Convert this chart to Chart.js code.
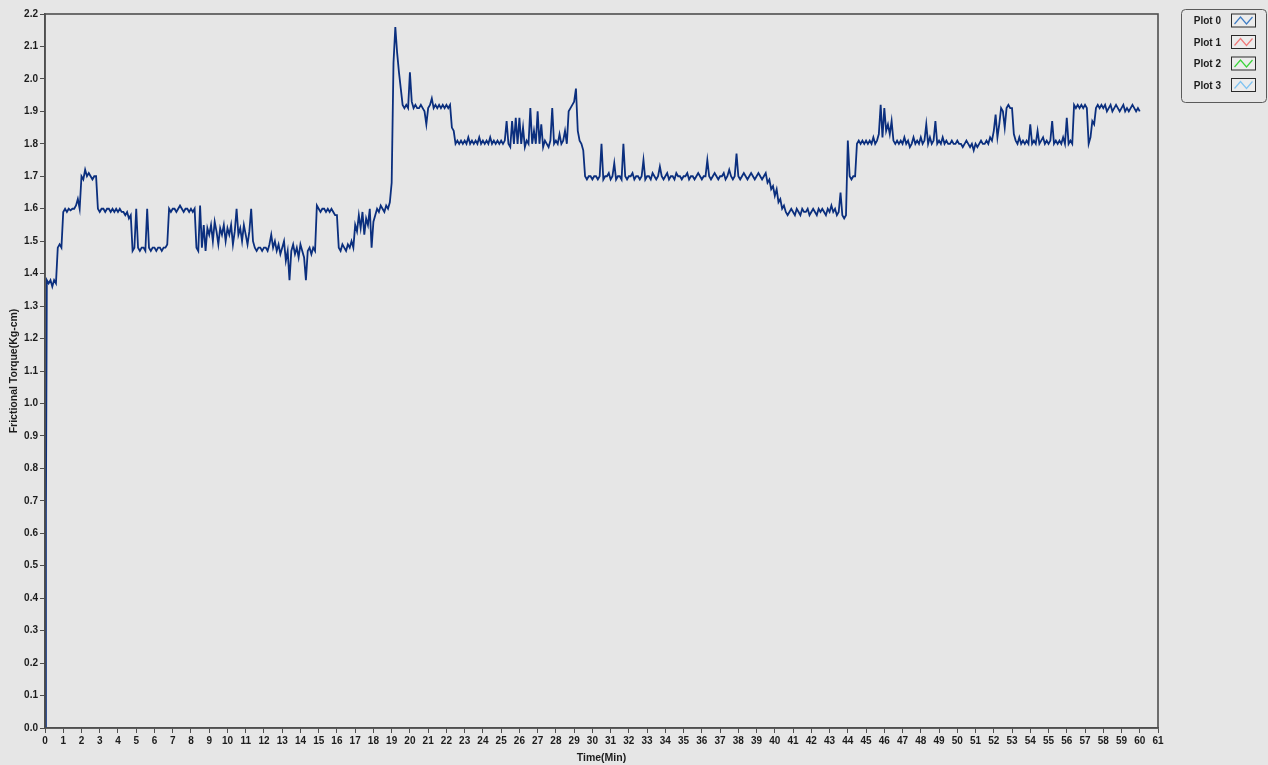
<!DOCTYPE html>
<html>
<head>
<meta charset="utf-8">
<script src="https://cdn.jsdelivr.net/npm/chart.js@4.4.1/dist/chart.umd.min.js"></script>
<style>
  html, body { margin: 0; padding: 0; background: #e6e6e6; overflow: hidden; }
  #wrap { width: 1268px; height: 765px; }
  canvas { display: block; }
</style>
</head>
<body>
<div id="wrap"><canvas id="torqueChart" width="1268" height="765"></canvas></div>
<script>
// Sample times (min)
const minutes = [
  0, 0.05, 0.1, 0.2, 0.3, 0.4, 0.5, 0.6, 0.7, 0.8, 0.9,
  1, 1.1, 1.2, 1.3, 1.4, 1.5, 1.6, 1.7, 1.8, 1.9,
  2, 2.1, 2.2, 2.3, 2.4, 2.5, 2.6, 2.7, 2.8, 2.9,
  3, 3.1, 3.2, 3.3, 3.4, 3.5, 3.6, 3.7, 3.8, 3.9,
  4, 4.1, 4.2, 4.3, 4.4, 4.5, 4.6, 4.7, 4.8, 4.9,
  5, 5.1, 5.2, 5.3, 5.4, 5.5, 5.6, 5.7, 5.8, 5.9,
  6, 6.1, 6.2, 6.3, 6.4, 6.5, 6.6, 6.7, 6.8, 6.9,
  7, 7.1, 7.2, 7.3, 7.4, 7.5, 7.6, 7.7, 7.8, 7.9,
  8, 8.1, 8.2, 8.3, 8.4, 8.5, 8.6, 8.7, 8.8, 8.9,
  9, 9.1, 9.2, 9.3, 9.4, 9.5, 9.6, 9.7, 9.8, 9.9,
  10, 10.1, 10.2, 10.3, 10.4, 10.5, 10.6, 10.7, 10.8, 10.9,
  11, 11.1, 11.2, 11.3, 11.4, 11.5, 11.6, 11.7, 11.8, 11.9,
  12, 12.1, 12.2, 12.3, 12.4, 12.5, 12.6, 12.7, 12.8, 12.9,
  13, 13.1, 13.2, 13.3, 13.4, 13.5, 13.6, 13.7, 13.8, 13.9,
  14, 14.1, 14.2, 14.3, 14.4, 14.5, 14.6, 14.7, 14.8, 14.9,
  15, 15.1, 15.2, 15.3, 15.4, 15.5, 15.6, 15.7, 15.8, 15.9,
  16, 16.1, 16.2, 16.3, 16.4, 16.5, 16.6, 16.7, 16.8, 16.9,
  17, 17.1, 17.2, 17.3, 17.4, 17.5, 17.6, 17.7, 17.8, 17.9,
  18, 18.1, 18.2, 18.3, 18.4, 18.5, 18.6, 18.7, 18.8, 18.9,
  19, 19.1, 19.2, 19.3, 19.4, 19.5, 19.6, 19.7, 19.8, 19.9,
  20, 20.1, 20.2, 20.3, 20.4, 20.5, 20.6, 20.7, 20.8, 20.9,
  21, 21.1, 21.2, 21.3, 21.4, 21.5, 21.6, 21.7, 21.8, 21.9,
  22, 22.1, 22.2, 22.3, 22.4, 22.5, 22.6, 22.7, 22.8, 22.9,
  23, 23.1, 23.2, 23.3, 23.4, 23.5, 23.6, 23.7, 23.8, 23.9,
  24, 24.1, 24.2, 24.3, 24.4, 24.5, 24.6, 24.7, 24.8, 24.9,
  25, 25.1, 25.2, 25.3, 25.4, 25.5, 25.6, 25.7, 25.8, 25.9,
  26, 26.1, 26.2, 26.3, 26.4, 26.5, 26.6, 26.7, 26.8, 26.9,
  27, 27.1, 27.2, 27.3, 27.4, 27.5, 27.6, 27.7, 27.8, 27.9,
  28, 28.1, 28.2, 28.3, 28.4, 28.5, 28.6, 28.7, 28.8, 28.9,
  29, 29.1, 29.2, 29.3, 29.4, 29.5, 29.6, 29.7, 29.8, 29.9,
  30, 30.1, 30.2, 30.3, 30.4, 30.5, 30.6, 30.7, 30.8, 30.9,
  31, 31.1, 31.2, 31.3, 31.4, 31.5, 31.6, 31.7, 31.8, 31.9,
  32, 32.1, 32.2, 32.3, 32.4, 32.5, 32.6, 32.7, 32.8, 32.9,
  33, 33.1, 33.2, 33.3, 33.4, 33.5, 33.6, 33.7, 33.8, 33.9,
  34, 34.1, 34.2, 34.3, 34.4, 34.5, 34.6, 34.7, 34.8, 34.9,
  35, 35.1, 35.2, 35.3, 35.4, 35.5, 35.6, 35.7, 35.8, 35.9,
  36, 36.1, 36.2, 36.3, 36.4, 36.5, 36.6, 36.7, 36.8, 36.9,
  37, 37.1, 37.2, 37.3, 37.4, 37.5, 37.6, 37.7, 37.8, 37.9,
  38, 38.1, 38.2, 38.3, 38.4, 38.5, 38.6, 38.7, 38.8, 38.9,
  39, 39.1, 39.2, 39.3, 39.4, 39.5, 39.6, 39.7, 39.8, 39.9,
  40, 40.1, 40.2, 40.3, 40.4, 40.5, 40.6, 40.7, 40.8, 40.9,
  41, 41.1, 41.2, 41.3, 41.4, 41.5, 41.6, 41.7, 41.8, 41.9,
  42, 42.1, 42.2, 42.3, 42.4, 42.5, 42.6, 42.7, 42.8, 42.9,
  43, 43.1, 43.2, 43.3, 43.4, 43.5, 43.6, 43.7, 43.8, 43.9,
  44, 44.1, 44.2, 44.3, 44.4, 44.5, 44.6, 44.7, 44.8, 44.9,
  45, 45.1, 45.2, 45.3, 45.4, 45.5, 45.6, 45.7, 45.8, 45.9,
  46, 46.1, 46.2, 46.3, 46.4, 46.5, 46.6, 46.7, 46.8, 46.9,
  47, 47.1, 47.2, 47.3, 47.4, 47.5, 47.6, 47.7, 47.8, 47.9,
  48, 48.1, 48.2, 48.3, 48.4, 48.5, 48.6, 48.7, 48.8, 48.9,
  49, 49.1, 49.2, 49.3, 49.4, 49.5, 49.6, 49.7, 49.8, 49.9,
  50, 50.1, 50.2, 50.3, 50.4, 50.5, 50.6, 50.7, 50.8, 50.9,
  51, 51.1, 51.2, 51.3, 51.4, 51.5, 51.6, 51.7, 51.8, 51.9,
  52, 52.1, 52.2, 52.3, 52.4, 52.5, 52.6, 52.7, 52.8, 52.9,
  53, 53.1, 53.2, 53.3, 53.4, 53.5, 53.6, 53.7, 53.8, 53.9,
  54, 54.1, 54.2, 54.3, 54.4, 54.5, 54.6, 54.7, 54.8, 54.9,
  55, 55.1, 55.2, 55.3, 55.4, 55.5, 55.6, 55.7, 55.8, 55.9,
  56, 56.1, 56.2, 56.3, 56.4, 56.5, 56.6, 56.7, 56.8, 56.9,
  57, 57.1, 57.2, 57.3, 57.4, 57.5, 57.6, 57.7, 57.8, 57.9,
  58, 58.1, 58.2, 58.3, 58.4, 58.5, 58.6, 58.7, 58.8, 58.9,
  59, 59.1, 59.2, 59.3, 59.4, 59.5, 59.6, 59.7, 59.8, 59.9,
  60
];

// Frictional torque (Kg-cm), Plot 0
const torque = [
  0.00, 0.66, 1.38, 1.37, 1.38, 1.36, 1.38, 1.37, 1.48, 1.49, 1.48,
  1.59, 1.60, 1.59, 1.60, 1.595, 1.60, 1.60, 1.61, 1.63, 1.60,
  1.70, 1.69, 1.72, 1.70, 1.71, 1.70, 1.69, 1.70, 1.70, 1.60,
  1.59, 1.60, 1.60, 1.59, 1.60, 1.60, 1.59, 1.60, 1.59, 1.60,
  1.59, 1.60, 1.59, 1.59, 1.58, 1.59, 1.57, 1.58, 1.47, 1.48,
  1.60, 1.48, 1.47, 1.48, 1.48, 1.47, 1.60, 1.48, 1.47, 1.48,
  1.48, 1.47, 1.48, 1.48, 1.47, 1.48, 1.48, 1.49, 1.60, 1.59,
  1.60, 1.60, 1.59, 1.60, 1.61, 1.60, 1.59, 1.60, 1.60, 1.59,
  1.60, 1.59, 1.60, 1.48, 1.47, 1.61, 1.48, 1.55, 1.47, 1.54,
  1.52, 1.55, 1.50, 1.56, 1.53, 1.49, 1.54, 1.52, 1.55, 1.50,
  1.54, 1.52, 1.55, 1.49, 1.53, 1.60, 1.52, 1.54, 1.50, 1.55,
  1.52, 1.49, 1.53, 1.60, 1.50, 1.48, 1.47, 1.48, 1.48, 1.47,
  1.48, 1.48, 1.47, 1.49, 1.52, 1.48, 1.50, 1.47, 1.49, 1.46,
  1.48, 1.50, 1.44, 1.47, 1.38, 1.47, 1.49, 1.46, 1.48, 1.45,
  1.49, 1.47, 1.45, 1.38, 1.47, 1.48, 1.46, 1.48, 1.47, 1.61,
  1.60, 1.59, 1.60, 1.60, 1.59, 1.60, 1.59, 1.60, 1.59, 1.58,
  1.58, 1.48, 1.47, 1.49, 1.48, 1.47, 1.49, 1.48, 1.50, 1.48,
  1.55, 1.53, 1.58, 1.54, 1.59, 1.52, 1.57, 1.55, 1.60, 1.48,
  1.56, 1.58, 1.60, 1.59, 1.61, 1.60, 1.59, 1.61, 1.60, 1.62,
  1.68, 2.05, 2.16, 2.08, 2.02, 1.97, 1.92, 1.91, 1.92, 1.91,
  2.02, 1.93, 1.91, 1.92, 1.91, 1.91, 1.92, 1.91, 1.90, 1.86,
  1.91, 1.92, 1.94, 1.91, 1.92, 1.91, 1.92, 1.91, 1.92, 1.91,
  1.92, 1.91, 1.92, 1.85, 1.84, 1.80, 1.81, 1.80, 1.81, 1.80,
  1.81, 1.80, 1.82, 1.80, 1.81, 1.80, 1.81, 1.80, 1.82, 1.80,
  1.81, 1.80, 1.81, 1.80, 1.82, 1.80, 1.81, 1.80, 1.81, 1.80,
  1.81, 1.80, 1.81, 1.87, 1.80, 1.79, 1.87, 1.80, 1.88, 1.80,
  1.88, 1.80, 1.85, 1.79, 1.81, 1.80, 1.91, 1.80, 1.84, 1.80,
  1.90, 1.80, 1.86, 1.79, 1.81, 1.80, 1.79, 1.81, 1.91, 1.80,
  1.81, 1.80, 1.83, 1.80, 1.81, 1.84, 1.80, 1.90, 1.91, 1.92,
  1.93, 1.97, 1.84, 1.81, 1.80, 1.78, 1.70, 1.69, 1.70, 1.70,
  1.69, 1.70, 1.70, 1.69, 1.70, 1.80, 1.69, 1.70, 1.70, 1.71,
  1.69, 1.70, 1.74, 1.69, 1.70, 1.70, 1.69, 1.80, 1.70, 1.69,
  1.70, 1.70, 1.71, 1.69, 1.70, 1.70, 1.69, 1.70, 1.75, 1.69,
  1.70, 1.70, 1.69, 1.71, 1.70, 1.69, 1.70, 1.73, 1.70, 1.69,
  1.70, 1.71, 1.69, 1.70, 1.70, 1.69, 1.71, 1.70, 1.70, 1.69,
  1.70, 1.70, 1.71, 1.69, 1.70, 1.70, 1.69, 1.70, 1.71, 1.70,
  1.69, 1.70, 1.70, 1.75, 1.70, 1.69, 1.70, 1.71, 1.70, 1.69,
  1.70, 1.70, 1.71, 1.69, 1.70, 1.72, 1.70, 1.69, 1.70, 1.77,
  1.70, 1.69, 1.70, 1.71, 1.70, 1.69, 1.70, 1.71, 1.70, 1.69,
  1.70, 1.71, 1.70, 1.69, 1.70, 1.71, 1.68, 1.69, 1.66, 1.67,
  1.64, 1.66, 1.62, 1.63, 1.60, 1.61, 1.59, 1.58, 1.59, 1.60,
  1.59, 1.58, 1.60, 1.59, 1.58, 1.60, 1.59, 1.59, 1.60, 1.58,
  1.59, 1.60, 1.59, 1.58, 1.60, 1.59, 1.60, 1.59, 1.58, 1.60,
  1.59, 1.61, 1.59, 1.60, 1.58, 1.59, 1.65, 1.58, 1.57, 1.58,
  1.81, 1.70, 1.69, 1.70, 1.70, 1.80, 1.81, 1.80, 1.81, 1.80,
  1.81, 1.80, 1.81, 1.80, 1.82, 1.80, 1.81, 1.83, 1.92, 1.82,
  1.91, 1.84, 1.86, 1.83, 1.87, 1.81, 1.80, 1.81, 1.80, 1.81,
  1.80, 1.82, 1.80, 1.81, 1.79, 1.80, 1.82, 1.80, 1.81, 1.80,
  1.82, 1.80, 1.81, 1.86, 1.80, 1.82, 1.80, 1.81, 1.87, 1.80,
  1.81, 1.80, 1.82, 1.80, 1.81, 1.80, 1.80, 1.81, 1.80, 1.80,
  1.81, 1.80, 1.80, 1.79, 1.80, 1.81, 1.80, 1.79, 1.80, 1.78,
  1.80, 1.79, 1.80, 1.81, 1.80, 1.80, 1.81, 1.80, 1.82, 1.81,
  1.84, 1.89, 1.82, 1.86, 1.91, 1.90, 1.85, 1.91, 1.92, 1.91,
  1.91, 1.83, 1.81, 1.80, 1.82, 1.80, 1.81, 1.80, 1.81, 1.80,
  1.86, 1.80, 1.81, 1.80, 1.84, 1.80, 1.81, 1.82, 1.80, 1.81,
  1.80, 1.81, 1.87, 1.80, 1.81, 1.80, 1.81, 1.80, 1.82, 1.80,
  1.88, 1.80, 1.81, 1.80, 1.92, 1.91, 1.92, 1.91, 1.92, 1.91,
  1.92, 1.91, 1.80, 1.82, 1.87, 1.86, 1.91, 1.92, 1.91, 1.92,
  1.91, 1.92, 1.90, 1.91, 1.92, 1.90, 1.91, 1.92, 1.91, 1.90,
  1.91, 1.92, 1.90, 1.91, 1.90, 1.91, 1.92, 1.91, 1.90, 1.91,
  1.90
];

// Legend entries
const plotNames = ['Plot 0', 'Plot 1', 'Plot 2', 'Plot 3'];
const plotColors = ['#0b2f7e', '#f07a7a', '#3ad43a', '#80c4f2'];
const legendSwatch = ['#3f7cc4', '#f07a7a', '#3ad43a', '#80c4f2'];

// Axis ranges
const xRange = [0, 61];
const yRange = [0, 2.2];

const BG = '#e6e6e6';
const FRAME = '#4f4f4f';
const TEXT = '#1c1c1c';
const FONT = "'Liberation Sans', Arial, sans-serif";

const datasets = plotNames.map((name, i) => ({
  label: name,
  data: i === 0 ? minutes.map((m, k) => ({ x: m, y: torque[k] })) : [],
  borderColor: plotColors[i],
  borderWidth: 1.8,
  pointRadius: 0,
  tension: 0,
  fill: false
}));

const frameAndLegend = {
  id: 'frameAndLegend',
  beforeDraw(chart) {
    const ctx = chart.ctx;
    ctx.save();
    ctx.fillStyle = BG;
    ctx.fillRect(0, 0, chart.width, chart.height);
    ctx.restore();
  },
  afterDatasetsDraw(chart) {
    const { ctx, chartArea: a } = chart;
    ctx.save();
    ctx.strokeStyle = FRAME;
    ctx.lineWidth = 1.6;
    ctx.strokeRect(a.left, a.top, a.right - a.left, a.bottom - a.top);
    ctx.restore();
  },
  afterDraw(chart) {
    const ctx = chart.ctx;
    ctx.save();
    // legend frame
    ctx.strokeStyle = '#5a5a5a';
    ctx.lineWidth = 1;
    ctx.beginPath();
    ctx.roundRect(1181.5, 9.5, 85, 93, 4);
    ctx.stroke();
    ctx.font = "bold 10px " + FONT;
    ctx.textAlign = 'right';
    ctx.textBaseline = 'middle';
    chart.data.datasets.forEach((ds, i) => {
      const cy = 20.5 + i * 21.5;
      ctx.fillStyle = TEXT;
      ctx.fillText(ds.label, 1221, cy + 1);
      const bx = 1231.5, by = cy - 6.5, bw = 24, bh = 13;
      ctx.fillStyle = '#ececec';
      ctx.fillRect(bx, by, bw, bh);
      ctx.strokeStyle = '#2a2a2a';
      ctx.lineWidth = 1;
      ctx.strokeRect(bx, by, bw, bh);
      ctx.strokeStyle = legendSwatch[i];
      ctx.lineWidth = 1.2;
      ctx.beginPath();
      ctx.moveTo(bx + 3, by + bh - 3);
      ctx.lineTo(bx + 9, by + 3);
      ctx.lineTo(bx + 15, by + bh - 3);
      ctx.lineTo(bx + 21, by + 3);
      ctx.stroke();
    });
    ctx.restore();
  }
};

new Chart(document.getElementById('torqueChart'), {
  type: 'line',
  data: { datasets },
  options: {
    responsive: false,
    animation: false,
    events: [],
    layout: { padding: { top: 14, right: 110, left: 0, bottom: 0 } },
    plugins: { legend: { display: false }, tooltip: { enabled: false } },
    scales: {
      x: {
        type: 'linear',
        min: xRange[0],
        max: xRange[1],
        afterFit(scale) { scale.height = 37; },
        grid: { display: true, drawOnChartArea: false, drawTicks: true, tickLength: 5, color: FRAME, lineWidth: 1 },
        border: { display: true, color: FRAME, width: 1.6 },
        ticks: {
          stepSize: 1,
          autoSkip: false,
          maxRotation: 0,
          padding: 2,
          color: TEXT,
          font: { family: FONT, size: 10, weight: 'bold' },
          callback: v => String(v)
        },
        title: {
          display: true,
          text: 'Time(Min)',
          color: TEXT,
          font: { family: FONT, size: 10.5, weight: 'bold' },
          padding: { top: 0, bottom: 1 }
        }
      },
      y: {
        type: 'linear',
        min: yRange[0],
        max: yRange[1],
        afterFit(scale) { scale.width = 45; },
        grid: { display: true, drawOnChartArea: false, drawTicks: true, tickLength: 5, color: FRAME, lineWidth: 1 },
        border: { display: true, color: FRAME, width: 1.6 },
        ticks: {
          stepSize: 0.1,
          autoSkip: false,
          padding: 2,
          color: TEXT,
          font: { family: FONT, size: 10, weight: 'bold' },
          callback: v => Number(v).toFixed(1)
        },
        title: {
          display: true,
          text: 'Frictional Torque(Kg-cm)',
          color: TEXT,
          font: { family: FONT, size: 10.5, weight: 'bold' },
          padding: { top: 8, bottom: 0 }
        }
      }
    }
  },
  plugins: [frameAndLegend]
});
</script>
</body>
</html>
